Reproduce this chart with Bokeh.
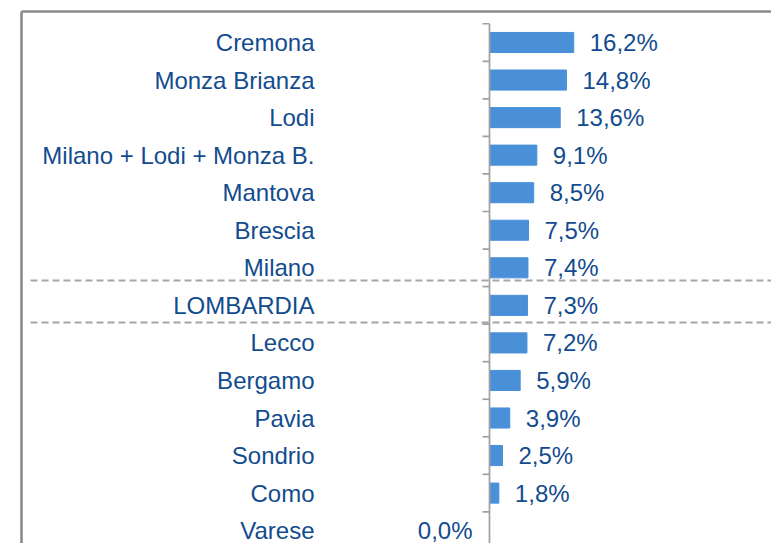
from bokeh.plotting import figure
from bokeh.models import Range1d, ColumnDataSource
from bokeh.core.properties import value
from bokeh.embed import file_html
from bokeh.resources import INLINE

# ---- data ----
categories = ["Cremona", "Monza Brianza", "Lodi", "Milano + Lodi + Monza B.", "Mantova",
              "Brescia", "Milano", "LOMBARDIA", "Lecco", "Bergamo", "Pavia", "Sondrio",
              "Como", "Varese"]
values = [16.2, 14.8, 13.6, 9.1, 8.5, 7.5, 7.4, 7.3, 7.2, 5.9, 3.9, 2.5, 1.8, 0.0]

# ---- layout (pixel calibration of figure) ----
W, H = 771, 543
AXIS_PX = 489.0      # pixel x of value 0
PX_PER_UNIT = 5.2    # pixels per percentage point
ROW0_PX = 42.0       # pixel y of first row centre
ROW_STEP = 37.55     # pixels per row

def xd(px):
    return (px - AXIS_PX) / PX_PER_UNIT

def yd(py):
    return (py - ROW0_PX) / ROW_STEP

rows = list(range(len(categories)))
labels = [f"{v:.1f}%".replace(".", ",") for v in values]

TEXT_COLOR = "#134C8E"
BAR_COLOR = "#4A90D9"
FONT = value("Liberation Sans")
FS = "24px"

p = figure(width=W, height=H, x_range=Range1d(xd(0), xd(W)),
           y_range=Range1d(yd(H), yd(0)),
           output_backend="svg", toolbar_location=None,
           x_axis_location=None, y_axis_location=None,
           min_border=0, outline_line_color=None)
p.grid.visible = False
p.background_fill_color = "white"

# outer chart border (top & left visible)
p.segment(x0=[xd(21), xd(21)], y0=[yd(11), yd(11)], x1=[xd(W + 5), xd(21)], y1=[yd(11), yd(H + 5)],
          line_color="#8A8A8A", line_width=2.6)

# dashed separator lines around LOMBARDIA
p.segment(x0=[xd(30), xd(30)], y0=[yd(280), yd(322)], x1=[xd(W + 5), xd(W + 5)], y1=[yd(280), yd(322)],
          line_color="#A6A6A6", line_width=1.8, line_dash="7 4")

src = ColumnDataSource(dict(cat=categories, row=rows, val=values, lab=labels))

# bars
p.hbar(y="row", left=0, right="val", height=0.535, source=src,
       fill_color=BAR_COLOR, line_color=BAR_COLOR, line_width=1)

# category axis line + ticks at category boundaries
n = len(categories)
p.segment(x0=[0], y0=[-0.5], x1=[0], y1=[yd(H + 5)], line_color="#A0A0A0", line_width=1.7)
bounds = [i - 0.5 for i in range(n + 1)]
p.segment(x0=[xd(AXIS_PX - 7)] * len(bounds), y0=bounds, x1=[0] * len(bounds), y1=bounds,
          line_color="#A0A0A0", line_width=1.7)

# category labels
p.text(x=xd(314), y="row", text="cat", source=src, text_align="right", text_baseline="middle",
       text_font=FONT, text_font_size=FS, text_color=TEXT_COLOR)

# value labels
pos = ColumnDataSource(dict(row=[r for r, v in zip(rows, values) if v > 0],
                            val=[v for v in values if v > 0],
                            lab=[l for l, v in zip(labels, values) if v > 0]))
zer = ColumnDataSource(dict(row=[r for r, v in zip(rows, values) if v <= 0],
                            val=[v for v in values if v <= 0],
                            lab=[l for l, v in zip(labels, values) if v <= 0]))
p.text(x="val", y="row", text="lab", source=pos, x_offset=16, text_align="left",
       text_baseline="middle", text_font=FONT, text_font_size=FS, text_color=TEXT_COLOR)
p.text(x="val", y="row", text="lab", source=zer, x_offset=-17, text_align="right",
       text_baseline="middle", text_font=FONT, text_font_size=FS, text_color=TEXT_COLOR)

open("out.html", "w").write(file_html(p, INLINE))
